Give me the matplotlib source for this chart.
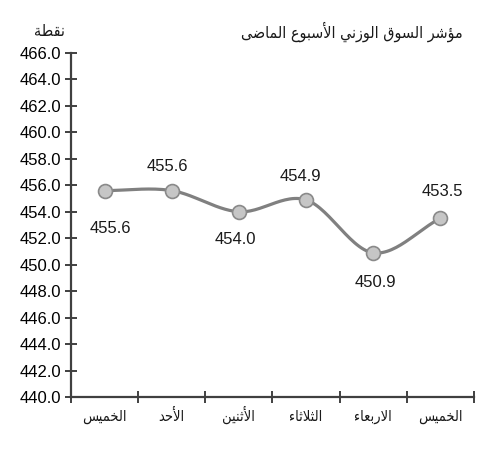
import numpy as np
import matplotlib
matplotlib.use("Agg")
import matplotlib.pyplot as plt

# بيانات المؤشر
days = ["الخميس", "الأحد", "الأثنين", "الثلاثاء", "الاربعاء", "الخميس"]
values = [455.6, 455.6, 454.0, 454.9, 450.9, 453.5]
title = "مؤشر السوق الوزني الأسبوع الماضى"
unit = "نقطة"
y_ticks = np.arange(440, 466.1, 2)

# offsets of the value labels (px)
lab_off = [(6, -38), (-4, 24), (-3, -28), (-6, 23), (2, -30), (2, 27)]

# matplotlib has no arabic shaping -> small shaper with presentation forms
FORMS = {
    'ء': (0xFE80, 1), 'أ': (0xFE83, 2), 'ؤ': (0xFE85, 2), 'ا': (0xFE8D, 2),
    'ب': (0xFE8F, 4), 'ة': (0xFE93, 2), 'ت': (0xFE95, 4), 'ث': (0xFE99, 4),
    'ح': (0xFEA1, 4), 'خ': (0xFEA5, 4), 'د': (0xFEA9, 2), 'ر': (0xFEAD, 2),
    'ز': (0xFEAF, 2), 'س': (0xFEB1, 4), 'ش': (0xFEB5, 4), 'ض': (0xFEBD, 4),
    'ط': (0xFEC1, 4), 'ع': (0xFEC9, 4), 'ق': (0xFED5, 4), 'ل': (0xFEDD, 4),
    'م': (0xFEE1, 4), 'ن': (0xFEE5, 4), 'و': (0xFEED, 2), 'ى': (0xFEEF, 2),
    'ي': (0xFEF1, 4),
}
LAMALEF = {'ا': 0xFEFB, 'أ': 0xFEF7}


def shape(text):
    units = []
    i = 0
    while i < len(text):
        c = text[i]
        if c == 'ل' and i + 1 < len(text) and text[i + 1] in LAMALEF:
            units.append((LAMALEF[text[i + 1]], 2))
            i += 2
        else:
            units.append(FORMS.get(c, (c, 0)))
            i += 1
    out = []
    for k, (code, n) in enumerate(units):
        if n == 0:
            out.append(code)
            continue
        prev = k > 0 and units[k - 1][1] == 4
        nxt = n == 4 and k + 1 < len(units) and units[k + 1][1] >= 2
        if n == 1:
            off = 0
        elif n == 2:
            off = 1 if prev else 0
        else:
            off = 3 if (prev and nxt) else 1 if prev else 2 if nxt else 0
        out.append(chr(code + off))
    return "".join(out[::-1])


plt.rcParams['font.family'] = ['Liberation Sans', 'DejaVu Sans']
ar = dict(family=['DejaVu Sans'], stretch='condensed', color='#1a1a1a')

fig = plt.figure(figsize=(4.82, 4.5), dpi=100)
ax = fig.add_axes([0.1473, 0.1178, 0.8357, 0.7644])

x = np.arange(len(values))
y = np.array(values)

# catmull-rom smoothing like excel's smoothed line
px = np.concatenate([[2 * x[0] - x[1]], x, [2 * x[-1] - x[-2]]])
py = np.concatenate([[2 * y[0] - y[1]], y, [2 * y[-1] - y[-2]]])
sx, sy = [], []
t = np.linspace(0, 1, 30)
for i in range(1, len(px) - 2):
    for arr, src in ((sx, px), (sy, py)):
        p0, p1, p2, p3 = src[i - 1], src[i], src[i + 1], src[i + 2]
        arr.extend(0.5 * (2 * p1 + (-p0 + p2) * t
                          + (2 * p0 - 5 * p1 + 4 * p2 - p3) * t ** 2
                          + (-p0 + 3 * p1 - 3 * p2 + p3) * t ** 3))
ax.plot(sx, sy, color='#808080', lw=2.3, solid_capstyle='round', zorder=2)
ax.plot(x, y, 'o', ms=10, mfc='#c6c6c6', mec='#8a8a8a', mew=1.2, zorder=3)

for xi, yi, (dx, dy) in zip(x, y, lab_off):
    ax.annotate(f"{yi:.1f}", (xi, yi), xytext=(dx * 0.72, dy * 0.72),
                textcoords='offset points', ha='center', va='center',
                fontsize=12, color='#1a1a1a')

ax.set_xlim(-0.5, len(values) - 0.5)
ax.set_ylim(440, 466)
ax.set_yticks(y_ticks)
ax.set_yticklabels([f"{v:.1f}" for v in y_ticks], fontsize=12)
ax.set_xticks(np.arange(-0.5, len(values)))
ax.set_xticklabels([])
ax.set_xticks(x, minor=True)
ax.set_xticklabels([shape(d) for d in days], minor=True, fontsize=10.5,
                   va='baseline', **ar)
ax.tick_params(axis='x', which='minor', length=0, pad=17)
ax.tick_params(axis='both', which='major', direction='inout', length=8,
               width=1.4, color='#404040')
ax.tick_params(axis='y', pad=3)

for s in ('top', 'right'):
    ax.spines[s].set_visible(False)
for s in ('left', 'bottom'):
    ax.spines[s].set_color('#404040')
    ax.spines[s].set_linewidth(1.6)

fig.text(463 / 482, 1 - 32 / 450, shape(title), ha='right', va='center',
         fontsize=11.5, **ar)
fig.text(49 / 482, 1 - 32 / 450, shape(unit), ha='center', va='center',
         fontsize=11.5, **ar)

fig.savefig("out.png", dpi=100)
